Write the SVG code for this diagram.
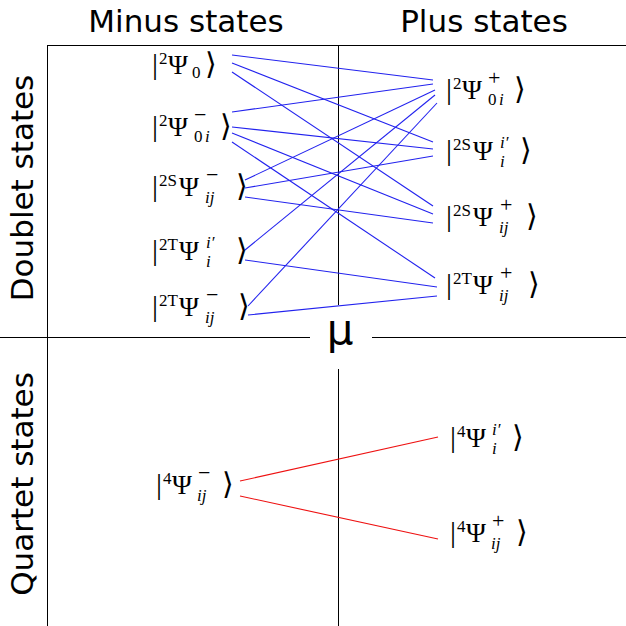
<svg xmlns="http://www.w3.org/2000/svg" width="626" height="626" viewBox="0 0 626 626">
<style>
.h{font-family:"DejaVu Sans",sans-serif;font-size:31px;fill:#000}
.m{font-family:"Liberation Serif","DejaVu Serif","DejaVu Sans",serif;fill:#000}
.b{font-size:30px}
.p{font-size:27px}
.s{font-size:17px}
.g{font-size:22px}
.it{font-style:italic}
.fr{stroke:#000;stroke-width:1;fill:none}
.bl{stroke:#2222ee;stroke-width:1.1;fill:none}
.rd{stroke:#ee1111;stroke-width:1.1;fill:none}
</style>
<rect width="626" height="626" fill="#fff"/>
<g id="frame">
<line class="fr" x1="47" y1="45.5" x2="626" y2="45.5"/>
<line class="fr" x1="47.5" y1="45" x2="47.5" y2="626"/>
<line class="fr" x1="338.5" y1="45" x2="338.5" y2="305"/>
<line class="fr" x1="338.5" y1="369" x2="338.5" y2="626"/>
<line class="fr" x1="0" y1="337.5" x2="310" y2="337.5"/>
<line class="fr" x1="372" y1="337.5" x2="626" y2="337.5"/>
</g>
<g id="headers">
<text class="h" x="186" y="32" text-anchor="middle">Minus states</text>
<text class="h" x="484" y="32" text-anchor="middle">Plus states</text>
<text class="h" text-anchor="middle" transform="translate(33,188) rotate(-90)">Doublet states</text>
<text class="h" text-anchor="middle" transform="translate(33,484) rotate(-90)">Quartet states</text>
<text class="h" x="340" y="344" text-anchor="middle" style="font-size:42px">μ</text>
</g>
<g id="connectors">
<line class="bl" x1="232" y1="55" x2="433" y2="80"/>
<line class="bl" x1="232" y1="63" x2="433" y2="142"/>
<line class="bl" x1="232" y1="72" x2="433" y2="206"/>
<line class="bl" x1="232" y1="112" x2="433" y2="84"/>
<line class="bl" x1="232" y1="127" x2="433" y2="149"/>
<line class="bl" x1="232" y1="133" x2="433" y2="214"/>
<line class="bl" x1="232" y1="142" x2="435" y2="278"/>
<line class="bl" x1="245" y1="180" x2="435" y2="90"/>
<line class="bl" x1="245" y1="188" x2="433" y2="156"/>
<line class="bl" x1="245" y1="197" x2="433" y2="223"/>
<line class="bl" x1="245" y1="250" x2="435" y2="95"/>
<line class="bl" x1="245" y1="260" x2="437" y2="287"/>
<line class="bl" x1="248" y1="306" x2="437" y2="103"/>
<line class="bl" x1="248" y1="315" x2="437" y2="296"/>
<line class="rd" x1="240" y1="481" x2="438" y2="437"/>
<line class="rd" x1="240" y1="496" x2="438" y2="539"/>
</g>
<g id="psi2_0" class="m" transform="translate(152,74)">
<text class="b" x="0" y="0">|</text><text class="s" x="7" y="-10">2</text><text class="p" x="16" y="0">Ψ</text><text class="s" x="40" y="4">0</text><text class="b" x="53" y="0">⟩</text>
</g>
<g id="psi2_0i_minus" class="m" transform="translate(152,136)">
<text class="b" x="0" y="0">|</text><text class="s" x="7" y="-10">2</text><text class="p" x="16" y="0">Ψ</text><text class="g" x="42" y="-14">−</text><text class="s" x="42" y="6">0</text><text class="s it" x="53" y="6">i</text><text class="b" x="68" y="0">⟩</text>
</g>
<g id="psi2S_ij_minus" class="m" transform="translate(152,196)">
<text class="b" x="0" y="0">|</text><text class="s" x="7" y="-10">2S</text><text class="p" x="27" y="0">Ψ</text><text class="g" x="54" y="-14">−</text><text class="s it" x="53" y="7">ij</text><text class="b" x="84" y="0">⟩</text>
</g>
<g id="psi2T_i_prime" class="m" transform="translate(152,260)">
<text class="b" x="0" y="0">|</text><text class="s" x="7" y="-10">2T</text><text class="p" x="27" y="0">Ψ</text><text class="s it" x="54" y="-12">i′</text><text class="s it" x="54" y="7">i</text><text class="b" x="84" y="0">⟩</text>
</g>
<g id="psi2T_ij_minus" class="m" transform="translate(152,316)">
<text class="b" x="0" y="0">|</text><text class="s" x="7" y="-10">2T</text><text class="p" x="27" y="0">Ψ</text><text class="g" x="54" y="-14">−</text><text class="s it" x="53" y="7">ij</text><text class="b" x="86" y="0">⟩</text>
</g>
<g id="psi2_0i_plus" class="m" transform="translate(446,99)">
<text class="b" x="0" y="0">|</text><text class="s" x="7" y="-10">2</text><text class="p" x="16" y="0">Ψ</text><text class="g" x="42" y="-14">+</text><text class="s" x="42" y="6">0</text><text class="s it" x="53" y="6">i</text><text class="b" x="68" y="0">⟩</text>
</g>
<g id="psi2S_i_prime" class="m" transform="translate(446,160)">
<text class="b" x="0" y="0">|</text><text class="s" x="7" y="-10">2S</text><text class="p" x="27" y="0">Ψ</text><text class="s it" x="54" y="-12">i′</text><text class="s it" x="54" y="7">i</text><text class="b" x="74" y="0">⟩</text>
</g>
<g id="psi2S_ij_plus" class="m" transform="translate(446,226)">
<text class="b" x="0" y="0">|</text><text class="s" x="7" y="-10">2S</text><text class="p" x="27" y="0">Ψ</text><text class="g" x="54" y="-14">+</text><text class="s it" x="53" y="7">ij</text><text class="b" x="80" y="0">⟩</text>
</g>
<g id="psi2T_ij_plus" class="m" transform="translate(446,294)">
<text class="b" x="0" y="0">|</text><text class="s" x="7" y="-10">2T</text><text class="p" x="27" y="0">Ψ</text><text class="g" x="54" y="-14">+</text><text class="s it" x="53" y="7">ij</text><text class="b" x="82" y="0">⟩</text>
</g>
<g id="psi4_ij_minus" class="m" transform="translate(156,494)">
<text class="b" x="0" y="0">|</text><text class="s" x="7" y="-10">4</text><text class="p" x="16" y="0">Ψ</text><text class="g" x="42" y="-14">−</text><text class="s it" x="41" y="7">ij</text><text class="b" x="66" y="0">⟩</text>
</g>
<g id="psi4_i_prime" class="m" transform="translate(450,447)">
<text class="b" x="0" y="0">|</text><text class="s" x="7" y="-10">4</text><text class="p" x="16" y="0">Ψ</text><text class="s it" x="42" y="-12">i′</text><text class="s it" x="42" y="7">i</text><text class="b" x="62" y="0">⟩</text>
</g>
<g id="psi4_ij_plus" class="m" transform="translate(450,542)">
<text class="b" x="0" y="0">|</text><text class="s" x="7" y="-10">4</text><text class="p" x="16" y="0">Ψ</text><text class="g" x="42" y="-14">+</text><text class="s it" x="41" y="7">ij</text><text class="b" x="66" y="0">⟩</text>
</g>
</svg>
